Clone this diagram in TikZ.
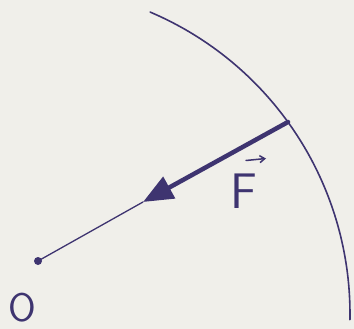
\documentclass[tikz,border=0pt]{standalone}
\usetikzlibrary{arrows.meta}
\definecolor{ink}{RGB}{62,52,112}
\definecolor{paper}{RGB}{240,239,234}

\begin{document}
\begin{tikzpicture}[x=1pt, y=-1pt,
  ink line/.style={draw=ink, line cap=round},
  force/.style={ink line, line width=4.5pt, -{Triangle[length=30pt, width=24pt]}},
  lbl/.style={text=ink, font=\sffamily\fontsize{40}{40}\selectfont, inner sep=0pt}
]
  \fill[paper] (0,0) rectangle (354,329);
  \useasboundingbox (0,0) rectangle (354,329);

  \coordinate (O)   at (38,261);
  \coordinate (P)   at (288,122);
  \coordinate (tip) at (143,202);

  % sphere boundary
  \draw[ink line, line width=1.6pt] plot[domain=67:-1, samples=60, smooth]
    ({22+328*cos(\x)}, {314-328*sin(\x)});

  \draw[ink line, line width=1.3pt] (O) -- (tip);
  \draw[force] (P) -- (tip);
  \fill[ink] (O) circle (4pt);

  \node[lbl] (labO) at (22,308) {O};
  \node[lbl, font=\sffamily\fontsize{50}{50}\selectfont] (labF) at (244,191) {F};
  % arrow over F
  \draw[ink line, line width=1.5pt, -{Straight Barb[length=5pt, width=7pt]}]
    ([xshift=2pt, yshift=13pt]labF.north) -- ([xshift=22pt, yshift=15pt]labF.north);
\end{tikzpicture}
\end{document}
